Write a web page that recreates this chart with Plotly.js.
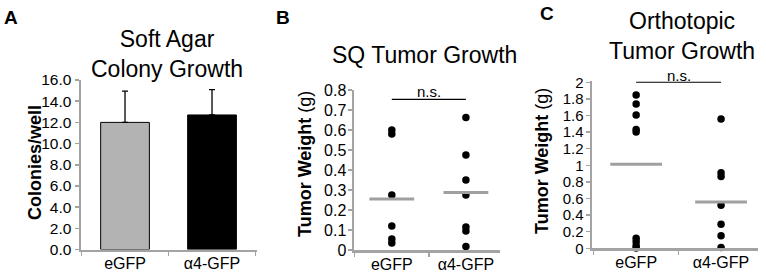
<!DOCTYPE html>
<html>
<head>
<meta charset="utf-8">
<script src="https://cdn.plot.ly/plotly-3.0.1.min.js"></script>
<style>html,body{margin:0;padding:0;background:#fff;}#chart{width:766px;height:273px;}</style>
</head>
<body>
<div id="chart"></div>
<script>
// ---- data ----
const categories = ['eGFP', 'α4-GFP'];
// Panel A: soft agar colonies/well
const colonies = [12.0, 12.7];
const coloniesErr = [2.95, 2.4];
// Panel B: SQ tumor weight (g)
const sqEGFP = [0.60, 0.58, 0.275, 0.12, 0.055, 0.035];
const sqA4 = [0.663, 0.475, 0.35, 0.275, 0.115, 0.095, 0.017];
const sqMeans = [0.255, 0.287];
// Panel C: orthotopic tumor weight (g)
const orthoEGFP = [1.847, 1.738, 1.606, 1.431, 1.40, 0.12, 0.08, 0.03, 0.005];
const orthoA4 = [1.558, 0.91, 0.865, 0.52, 0.29, 0.15, 0.01];
const orthoMeans = [1.012, 0.558];
// significance bracket heights (B, C)
const bracketY = [0.753, 2.0];
const bracketLabel = 'n.s.';

const FONT = 'Arial, "Liberation Sans", Helvetica, sans-serif';
const AX = '#a3a3a3';
const MEAN = '#a0a0a0';

function rep(c, n) { return Array(n).fill(c); }

const traces = [
  // A bars
  {type: 'bar', x: categories, y: colonies, xaxis: 'x', yaxis: 'y', width: 0.56,
   marker: {color: ['#b3b3b3', '#000000'], line: {color: '#000', width: 1}},
   error_y: {type: 'data', array: coloniesErr, arrayminus: [0, 0], symmetric: false, color: '#000', thickness: 1.3, width: 3},
   hoverinfo: 'skip'},
  // B dots
  {type: 'scatter', mode: 'markers', x: rep(categories[0], sqEGFP.length), y: sqEGFP, xaxis: 'x2', yaxis: 'y2',
   marker: {color: '#000', size: 7.5}, cliponaxis: false},
  {type: 'scatter', mode: 'markers', x: rep(categories[1], sqA4.length), y: sqA4, xaxis: 'x2', yaxis: 'y2',
   marker: {color: '#000', size: 7.5}, cliponaxis: false},
  // B means
  {type: 'scatter', mode: 'markers', x: categories, y: sqMeans, xaxis: 'x2', yaxis: 'y2',
   marker: {symbol: 'line-ew', size: 32, line: {color: MEAN, width: 3}}, cliponaxis: false},
  // B bracket
  {type: 'scatter', mode: 'lines', x: categories, y: [bracketY[0], bracketY[0]], xaxis: 'x2', yaxis: 'y2',
   line: {color: '#000', width: 1.2}, cliponaxis: false},
  // C dots
  {type: 'scatter', mode: 'markers', x: rep(categories[0], orthoEGFP.length), y: orthoEGFP, xaxis: 'x3', yaxis: 'y3',
   marker: {color: '#000', size: 7.5}, cliponaxis: false},
  {type: 'scatter', mode: 'markers', x: rep(categories[1], orthoA4.length), y: orthoA4, xaxis: 'x3', yaxis: 'y3',
   marker: {color: '#000', size: 7.5}, cliponaxis: false},
  // C means
  {type: 'scatter', mode: 'markers', x: categories, y: orthoMeans, xaxis: 'x3', yaxis: 'y3',
   marker: {symbol: 'line-ew', size: 37, line: {color: MEAN, width: 3}}, cliponaxis: false},
  // C bracket
  {type: 'scatter', mode: 'lines', x: categories, y: [bracketY[1], bracketY[1]], xaxis: 'x3', yaxis: 'y3',
   line: {color: '#000', width: 1.2}, cliponaxis: false}
];

function xax(domain, range) {
  return {domain: domain, range: range, type: 'category', showline: true, linecolor: AX, linewidth: 2.5,
    ticks: 'outside', tickson: 'boundaries', ticklen: 4, tickwidth: 1.5, tickcolor: AX, ticklabelstandoff: -2,
    showgrid: false, zeroline: false, tickfont: {family: FONT, size: 16, color: '#000'}, fixedrange: true};
}
function yax(domain, range, dtick, fmt, anchor, fs, standoff) {
  const a = {domain: domain, range: range, dtick: dtick, tick0: 0, showline: true, linecolor: AX, linewidth: 2.5,
    ticks: 'outside', ticklen: 4, tickwidth: 1.5, tickcolor: AX, anchor: anchor, ticklabelstandoff: standoff,
    showgrid: false, zeroline: false, tickfont: {family: FONT, size: fs, color: '#000'}, fixedrange: true};
  if (fmt) a.tickformat = fmt;
  return a;
}

const W = 766, H = 273;
const px = v => v / W, py = v => 1 - v / H;

const layout = {
  width: W, height: H,
  margin: {l: 0, r: 0, t: 0, b: 0},
  paper_bgcolor: '#fff', plot_bgcolor: 'rgba(0,0,0,0)',
  showlegend: false,
  font: {family: FONT, color: '#000'},
  xaxis: Object.assign(xax([px(81), px(257)], [-0.506, 1.517]), {anchor: 'y'}),
  yaxis: yax([py(249.5), py(80)], [0, 16], 2, '.1f', 'x', 15.5, 0),
  xaxis2: Object.assign(xax([px(354), px(500)], [-0.51, 1.46]), {anchor: 'y2'}),
  yaxis2: yax([py(250), py(90)], [0, 0.8], 0.1, null, 'x2', 16, -2),
  xaxis3: Object.assign(xax([px(592), px(758)], [-0.52, 1.435]), {anchor: 'y3'}),
  yaxis3: yax([py(248.3), py(80.6)], [0, 2.02], 0.2, null, 'x3', 15, -1),
  annotations: [
    // panel letters
    {text: '<b>A</b>', x: px(2), y: py(5), xref: 'paper', yref: 'paper', xanchor: 'left', yanchor: 'top', showarrow: false, font: {size: 19, family: FONT}},
    {text: '<b>B</b>', x: px(274), y: py(5), xref: 'paper', yref: 'paper', xanchor: 'left', yanchor: 'top', showarrow: false, font: {size: 19, family: FONT}},
    {text: '<b>C</b>', x: px(538), y: py(1), xref: 'paper', yref: 'paper', xanchor: 'left', yanchor: 'top', showarrow: false, font: {size: 19, family: FONT}},
    // panel titles
    {text: 'Soft Agar<br>Colony Growth', x: px(167), y: py(54), xref: 'paper', yref: 'paper', xanchor: 'center', yanchor: 'middle', showarrow: false, font: {size: 23, family: FONT}},
    {text: 'SQ Tumor Growth', x: px(424), y: py(55), xref: 'paper', yref: 'paper', xanchor: 'center', yanchor: 'middle', showarrow: false, font: {size: 23, family: FONT}},
    {text: 'Orthotopic<br>Tumor Growth', x: px(682), y: py(36), xref: 'paper', yref: 'paper', xanchor: 'center', yanchor: 'middle', showarrow: false, font: {size: 23, family: FONT}},
    // y-axis titles
    {text: '<b>Colonies/well</b>', textangle: -90, x: px(35), y: py(163), xref: 'paper', yref: 'paper', xanchor: 'center', yanchor: 'middle', showarrow: false, font: {size: 18, family: FONT}},
    {text: '<b>Tumor Weight</b> (g)', textangle: -90, x: px(305), y: py(164), xref: 'paper', yref: 'paper', xanchor: 'center', yanchor: 'middle', showarrow: false, font: {size: 18, family: FONT}},
    {text: '<b>Tumor Weight</b> (g)', textangle: -90, x: px(542), y: py(161), xref: 'paper', yref: 'paper', xanchor: 'center', yanchor: 'middle', showarrow: false, font: {size: 18, family: FONT}},
    // significance labels
    {text: bracketLabel, x: 0.5, y: bracketY[0], xref: 'x2', yref: 'y2', xanchor: 'center', yanchor: 'bottom', yshift: -3, showarrow: false, font: {size: 15, family: FONT}},
    {text: bracketLabel, x: 0.5, y: bracketY[1], xref: 'x3', yref: 'y3', xanchor: 'center', yanchor: 'bottom', yshift: -4, showarrow: false, font: {size: 15, family: FONT}}
  ]
};

Plotly.newPlot('chart', traces, layout, {displayModeBar: false, staticPlot: true});
</script>
</body>
</html>
